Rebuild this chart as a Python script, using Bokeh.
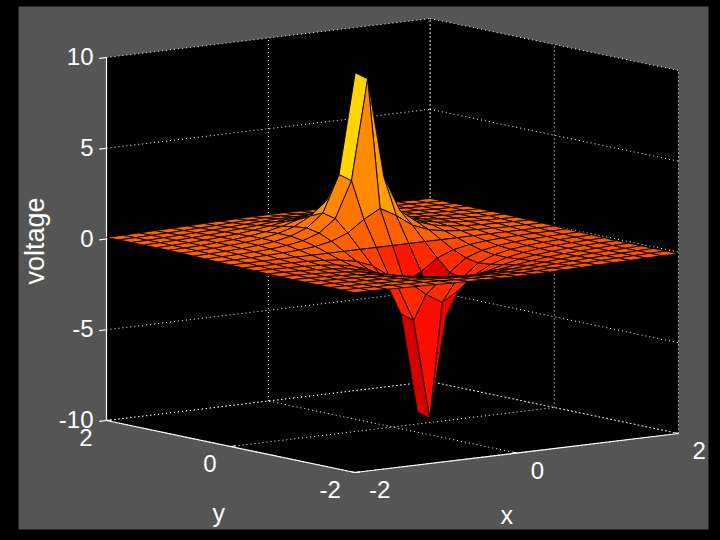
import numpy as np
from bokeh.plotting import figure
from bokeh.models import Range1d, ColumnDataSource
from bokeh.core.properties import value
from bokeh.embed import file_html
from bokeh.resources import INLINE

x_grid = [-2.0,-1.8,-1.6,-1.4,-1.2,-1.0,-0.8,-0.6,-0.4,-0.2,0.0,0.2,0.4,0.6,0.8,1.0,1.2,1.4,1.6,1.8,2.0]
y_grid = [-2.0,-1.8,-1.6,-1.4,-1.2,-1.0,-0.8,-0.6,-0.4,-0.2,0.0,0.2,0.4,0.6,0.8,1.0,1.2,1.4,1.6,1.8,2.0]

z_m20 = [-.09,-.10,-.12,-.14,-.16,-.18,-.21,-.23,-.25,-.26,-.27,-.26,-.25,-.23,-.21,-.18,-.16,-.14,-.12,-.10,-.09]
z_m18 = [-.09,-.11,-.13,-.15,-.18,-.21,-.24,-.28,-.31,-.33,-.33,-.33,-.31,-.28,-.24,-.21,-.18,-.15,-.13,-.11,-.09]
z_m16 = [-.09,-.11,-.14,-.17,-.20,-.24,-.29,-.34,-.39,-.42,-.43,-.42,-.39,-.34,-.29,-.24,-.20,-.17,-.14,-.11,-.09]
z_m14 = [-.09,-.12,-.14,-.18,-.22,-.28,-.35,-.42,-.50,-.56,-.59,-.56,-.50,-.42,-.35,-.28,-.22,-.18,-.14,-.12,-.09]
z_m12 = [-.09,-.11,-.15,-.19,-.24,-.31,-.41,-.53,-.67,-.79,-.84,-.79,-.67,-.53,-.41,-.31,-.24,-.19,-.15,-.11,-.09]
z_m10 = [-.09,-.11,-.14,-.19,-.25,-.34,-.47,-.66,-.92,-1.20,-1.33,-1.20,-.92,-.66,-.47,-.34,-.25,-.19,-.14,-.11,-.09]
z_m08 = [-.08,-.10,-.13,-.18,-.24,-.35,-.52,-.79,-1.27,-2.01,-2.56,-2.01,-1.27,-.79,-.52,-.35,-.24,-.18,-.13,-.10,-.08]
z_m06 = [-.06,-.08,-.11,-.15,-.22,-.32,-.51,-.85,-1.57,-3.58,-9.09,-3.58,-1.57,-.85,-.51,-.32,-.22,-.15,-.11,-.08,-.06]
z_m04 = [-.04,-.06,-.08,-.11,-.16,-.25,-.41,-.72,-1.41,-3.39,-8.89,-3.39,-1.41,-.72,-.41,-.25,-.16,-.11,-.08,-.06,-.04]
z_m02 = [-.02,-.03,-.04,-.06,-.09,-.14,-.23,-.41,-.76,-1.40,-1.90,-1.40,-.76,-.41,-.23,-.14,-.09,-.06,-.04,-.03,-.02]
z_p00 = [0,0,0,0,0,0,0,0,0,0,0,0,0,0,0,0,0,0,0,0,0]
z_p02 = [.02,.03,.04,.06,.09,.14,.23,.41,.76,1.40,1.90,1.40,.76,.41,.23,.14,.09,.06,.04,.03,.02]
z_p04 = [.04,.06,.08,.11,.16,.25,.41,.72,1.41,3.39,8.89,3.39,1.41,.72,.41,.25,.16,.11,.08,.06,.04]
z_p06 = [.06,.08,.11,.15,.22,.32,.51,.85,1.57,3.58,9.09,3.58,1.57,.85,.51,.32,.22,.15,.11,.08,.06]
z_p08 = [.08,.10,.13,.18,.24,.35,.52,.79,1.27,2.01,2.56,2.01,1.27,.79,.52,.35,.24,.18,.13,.10,.08]
z_p10 = [.09,.11,.14,.19,.25,.34,.47,.66,.92,1.20,1.33,1.20,.92,.66,.47,.34,.25,.19,.14,.11,.09]
z_p12 = [.09,.11,.15,.19,.24,.31,.41,.53,.67,.79,.84,.79,.67,.53,.41,.31,.24,.19,.15,.11,.09]
z_p14 = [.09,.12,.14,.18,.22,.28,.35,.42,.50,.56,.59,.56,.50,.42,.35,.28,.22,.18,.14,.12,.09]
z_p16 = [.09,.11,.14,.17,.20,.24,.29,.34,.39,.42,.43,.42,.39,.34,.29,.24,.20,.17,.14,.11,.09]
z_p18 = [.09,.11,.13,.15,.18,.21,.24,.28,.31,.33,.33,.33,.31,.28,.24,.21,.18,.15,.13,.11,.09]
z_p20 = [.09,.10,.12,.14,.16,.18,.21,.23,.25,.26,.27,.26,.25,.23,.21,.18,.16,.14,.12,.10,.09]
z_rows = [z_m20,z_m18,z_m16,z_m14,z_m12,z_m10,z_m08,z_m06,z_m04,z_m02,z_p00,
          z_p02,z_p04,z_p06,z_p08,z_p10,z_p12,z_p14,z_p16,z_p18,z_p20]

x_ticks = [-2, 0, 2]
y_ticks = [-2, 0, 2]
z_ticks = [-10, -5, 0, 5, 10]
x_label = "x"
y_label = "y"
z_label = "voltage"

BG = "#555555"
FONT = value("Liberation Sans")


def proj(x, y, z):
    """Orthographic view (az -37.5) of the data box onto the page."""
    return (392.0 + 80.9 * x - 62.1 * y,
            245.0 - 9.75 * x - 13.0 * y - 18.15 * z)


def hot(z, cmin=-9.09, cmax=9.09):
    k = int(np.clip(np.floor((z - cmin) / (cmax - cmin) * 64), 0, 63)) + 1
    r = min(k / 24, 1.0)
    g = 0.0 if k <= 24 else min((k - 24) / 24, 1.0)
    b = 0.0 if k <= 48 else (k - 48) / 16
    return "#%02x%02x%02x" % (round(r * 255), round(g * 255), round(b * 255))


p = figure(width=720, height=540, output_backend="svg", toolbar_location=None,
           x_range=Range1d(0, 720), y_range=Range1d(540, 0),
           min_border=0, min_border_left=0, min_border_right=0,
           min_border_top=0, min_border_bottom=0,
           x_axis_location=None, y_axis_location=None,
           background_fill_color="black", border_fill_color="black",
           outline_line_color=None)
p.xgrid.visible = False
p.ygrid.visible = False

# gray sheet of the figure window
p.quad(left=[18], right=[708], top=[6], bottom=[529], fill_color=BG, line_color=None)

# black back walls and floor
xmin, xmax = min(x_ticks), max(x_ticks)
ymin, ymax = min(y_ticks), max(y_ticks)
zmin, zmax = min(z_ticks), max(z_ticks)
hull = [(xmin, ymax, zmax), (xmax, ymax, zmax), (xmax, ymin, zmax),
        (xmax, ymin, zmin), (xmin, ymin, zmin), (xmin, ymax, zmin)]
hx, hy = zip(*[proj(*c) for c in hull])
p.patch(list(hx), list(hy), fill_color="black", line_color=None)


def segs(pairs):
    xs, ys = [], []
    for a, b in pairs:
        pa, pb = proj(*a), proj(*b)
        xs.append([pa[0], pb[0]])
        ys.append([pa[1], pb[1]])
    return xs, ys


# dotted grid on walls and floor
g = []
for xt in x_ticks:
    g.append(((xt, ymin, zmin), (xt, ymax, zmin)))
    g.append(((xt, ymax, zmin), (xt, ymax, zmax)))
for yt in y_ticks:
    g.append(((xmin, yt, zmin), (xmax, yt, zmin)))
    g.append(((xmax, yt, zmin), (xmax, yt, zmax)))
for zt in z_ticks:
    g.append(((xmin, ymax, zt), (xmax, ymax, zt)))
    g.append(((xmax, ymax, zt), (xmax, ymin, zt)))
gx, gy = segs(g)
p.multi_line(gx, gy, line_color="white", line_width=1, line_dash="1 3")

# solid axis lines and ticks
a = [((xmin, ymax, zmin), (xmin, ymax, zmax)),
     ((xmin, ymax, zmin), (xmin, ymin, zmin)),
     ((xmin, ymin, zmin), (xmax, ymin, zmin))]
for zt in z_ticks:
    a.append(((xmin, ymax, zt), (xmin - 0.09, ymax, zt)))
for xt in x_ticks:
    a.append(((xt, ymin, zmin), (xt, ymin + 0.06, zmin)))
for yt in y_ticks:
    a.append(((xmin, yt, zmin), (xmin + 0.06, yt, zmin)))
ax, ay = segs(a)
p.multi_line(ax, ay, line_color="white", line_width=1.2)

# surface: back to front, one flat colour per cell from its low corner
qx, qy, qc = [], [], []
for j in range(len(y_grid) - 2, -1, -1):
    for i in range(len(x_grid) - 2, -1, -1):
        corners = [(i, j), (i + 1, j), (i + 1, j + 1), (i, j + 1)]
        pts = [proj(x_grid[u], y_grid[v], z_rows[v][u]) for u, v in corners]
        qx.append([c[0] for c in pts])
        qy.append([c[1] for c in pts])
        qc.append(hot(z_rows[j][i]))
p.patches(source=ColumnDataSource(dict(xs=qx, ys=qy, c=qc)), xs="xs", ys="ys",
          fill_color="c", line_color="black", line_width=0.9)


def label(xyz, txt, dx, dy, align, size="24px", angle=0.0):
    px, py = proj(*xyz)
    p.text([px], [py], text=[txt], x_offset=dx, y_offset=dy, angle=angle,
           text_color="white", text_font=FONT, text_font_size=value(size),
           text_align=align, text_baseline="middle")


for zt in z_ticks:
    label((xmin, ymax, zt), str(zt), -13, -1, "right")
for yt in y_ticks:
    label((xmin, yt, zmin), str(yt), -14, 17, "right")
for xt in x_ticks:
    label((xt, ymin, zmin), str(xt), 14, 17, "left")
label((0, ymin, zmin), x_label, -10, 62, "center", size="25px")
label((xmin, 0, zmin), y_label, -12, 66, "center", size="25px")
label((xmin, ymax, 0), z_label, -72, 2, "center", size="27px", angle=np.pi / 2)

html = file_html(p, INLINE)
html = html.replace("<head>", "<head><style>html,body{margin:0;padding:0;background:#000;overflow:hidden}</style>", 1)
open("out.html", "w").write(html)
